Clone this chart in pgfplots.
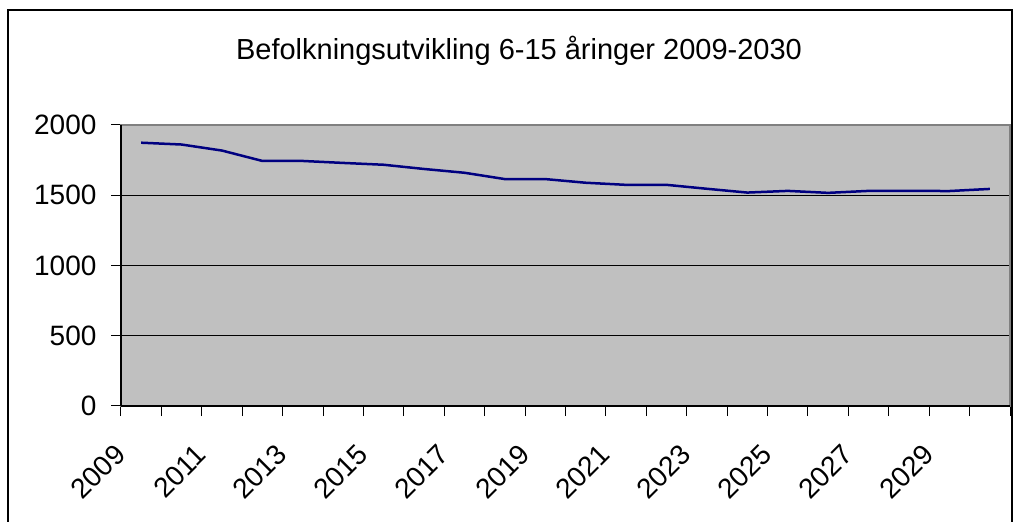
\documentclass[border=0pt]{standalone}
\usepackage{fontspec}
\setmainfont{Liberation Sans}
\usepackage{pgfplots}
\pgfplotsset{compat=1.18}
\definecolor{plotgray}{HTML}{C0C0C0}
\definecolor{navyline}{HTML}{000080}
\begin{document}
\begin{tikzpicture}
\useasboundingbox (0pt,0pt) rectangle (1015pt,522pt);
\draw[line width=2pt] (8pt,-5pt) -- (8pt,512pt) -- (1012pt,512pt) -- (1012pt,-5pt);
\node[font=\fontsize{29}{32}\selectfont] at (519pt,471pt) {Befolkningsutvikling 6-15 åringer 2009-2030};
\begin{axis}[
  at={(121pt,116pt)}, anchor=south west,
  scale only axis, width=889pt, height=281pt,
  xmin=-0.5, xmax=21.5, ymin=0, ymax=2000,
  axis background/.style={fill=plotgray},
  axis line style={draw=gray, line width=1.5pt},
  ytick={0,500,1000,1500,2000},
  ymajorgrids, grid style={black, line width=1pt},
  xtick={0,2,...,20},
  xticklabels={2009,2011,2013,2015,2017,2019,2021,2023,2025,2027,2029},
  minor xtick={-0.5,0.5,...,21.5},
  major x tick style={draw=none},
  tick style={black, line width=1pt},
  tick align=outside,
  major tick length=10pt, minor tick length=10pt,
  xtick pos=bottom, ytick pos=left,
  ticklabel style={font=\fontsize{28}{32}\selectfont},
  xticklabel style={xshift=-28pt, yshift=-22pt, rotate=45, anchor=north east},
  yticklabel style={xshift=-11pt},
  /pgf/number format/assume math mode=true,
  /pgf/number format/1000 sep={},
  clip=false,
]
\addplot[navyline, line width=2.5pt] coordinates {
(0,1874) (1,1861) (2,1818) (3,1744) (4,1744) (5,1730) (6,1717) (7,1687)
(8,1660) (9,1615) (10,1615) (11,1589) (12,1574) (13,1574) (14,1546)
(15,1519) (16,1531) (17,1517) (18,1531) (19,1531) (20,1530) (21,1545)
};
\draw[black, line width=1.5pt] (rel axis cs:0,0) -- (rel axis cs:0,1);
\draw[black, line width=1.5pt] (rel axis cs:0,0) -- (rel axis cs:1,0);
\end{axis}
\end{tikzpicture}
\end{document}
